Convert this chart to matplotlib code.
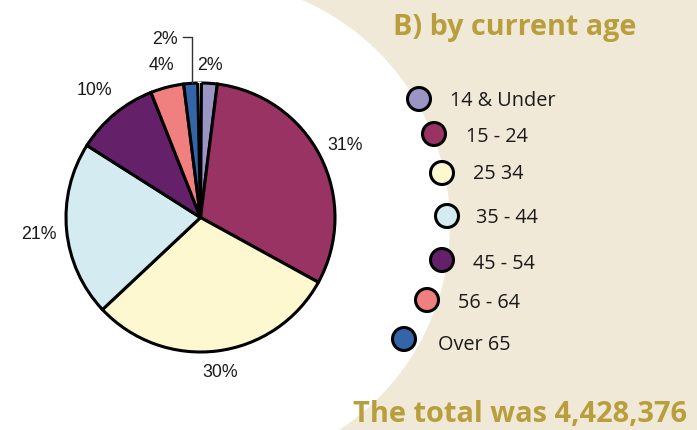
import numpy as np
import matplotlib
matplotlib.use("Agg")
import matplotlib.pyplot as plt
from matplotlib.patches import Circle, Wedge, Rectangle

# ---- data ----
categories = ["14 & Under", "15 - 24", "25 34", "35 - 44", "45 - 54", "56 - 64", "Over 65"]
values = [2, 31, 30, 21, 10, 4, 2]
pct_labels = ["2%", "31%", "30%", "21%", "10%", "4%", "2%"]
colors = ["#9b95c5", "#993363", "#fdf8d0", "#d4ebf2", "#65206a", "#f08080", "#3465a9"]
title = "B) by current age"
total_text = "The total was 4,428,376"

W, H = 697, 430
BG = "#f1e9d7"
GOLD = "#b89e3c"

fig = plt.figure(figsize=(W / 100, H / 100), dpi=100, facecolor=BG)
ax = fig.add_axes([0, 0, 1, 1])
ax.set_facecolor(BG)

def Y(y):  # image y (top-down) -> data y
    return H - y

# white background region (left side, curved right boundary)
ax.add_patch(Circle((205, Y(225)), 245, facecolor="white", edgecolor="none", zorder=0))
ax.add_patch(Rectangle((0, 0), 205, H, facecolor="white", edgecolor="none", zorder=0))

cx, cy, R = 200.5, Y(217.5), 134.5
wedges, _ = ax.pie(values, colors=colors, startangle=90, counterclock=False,
                   center=(cx, cy), radius=R,
                   wedgeprops=dict(edgecolor="black", linewidth=2.2, joinstyle="miter"))
for w in wedges:
    w.set_zorder(2)

# white gap between last and first slice at the top
g0, g1 = 89.6, 91.2
ax.add_patch(Wedge((cx, cy), R + 1.5, g0, g1, facecolor="white", edgecolor="none", zorder=3))
for a in (g0, g1):
    t = np.deg2rad(a)
    ax.plot([cx, cx + R * np.cos(t)], [cy, cy + R * np.sin(t)], color="black", lw=2.2,
            solid_capstyle="butt", zorder=4)

# percentage labels
label_dist = [1.145, 1.21, 1.15, 1.21, 1.24, 1.18, None]
for w, lab, d in zip(wedges, pct_labels, label_dist):
    mid = np.deg2rad((w.theta1 + w.theta2) / 2)
    if d is None:
        # label with leader line from the slice's outer edge
        px = 192
        py = cy + np.sqrt(R**2 - (px - cx) ** 2)
        ax.plot([px, px, 183], [py, Y(37), Y(37)], color="#333333", lw=1.0, zorder=5)
        ax.text(165, Y(37.5), lab, ha="center", va="center_baseline",
                fontsize=12.8, family="Liberation Sans", color="#1a1a1a", zorder=5)
        continue
    x = cx + d * R * np.cos(mid)
    y = cy + d * R * np.sin(mid)
    ax.text(x, y, lab, ha="center", va="center_baseline", fontsize=12.8,
            family="Liberation Sans", color="#1a1a1a", zorder=5)

# legend
leg_circle = [(419, 99), (434, 134), (442, 173), (447, 216), (442, 260), (427, 300), (404, 339)]
leg_text_x = [450, 466, 473, 476, 473, 458, 438]
leg_base = [106, 142, 179, 223, 269, 308, 350]
for (lx, ly), tx, tb, c, name in zip(leg_circle, leg_text_x, leg_base, colors, categories):
    ax.add_patch(Circle((lx, Y(ly)), 11.5, facecolor=c, edgecolor="black", lw=2.2, zorder=5))
    ax.text(tx, Y(tb), name, ha="left", va="baseline", fontsize=14.3,
            family="Open Sans", color="#1a1a1a", zorder=5)

ax.text(393, Y(35), title, ha="left", va="baseline", fontsize=20.7, fontweight="bold",
        family="Open Sans", color=GOLD, zorder=5)
ax.text(353, Y(422), total_text, ha="left", va="baseline", fontsize=20.9, fontweight="bold",
        family="Open Sans", color=GOLD, zorder=5)

ax.set_xlim(0, W)
ax.set_ylim(0, H)
ax.set_aspect("auto")
ax.axis("off")

fig.savefig("out.png", dpi=100, facecolor=BG)
